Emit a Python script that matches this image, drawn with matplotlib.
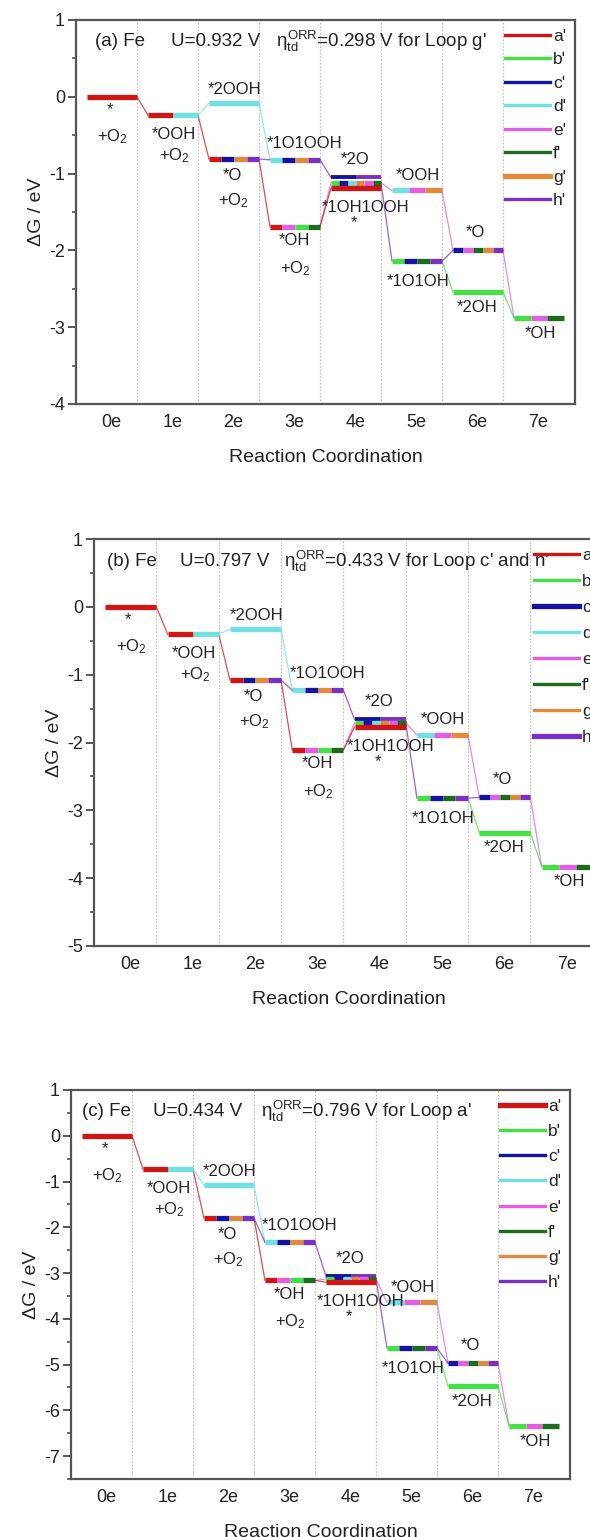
import numpy as np
import matplotlib
matplotlib.use('Agg')
import matplotlib.pyplot as plt
from matplotlib.lines import Line2D
from matplotlib.ticker import MultipleLocator

plt.rcParams['font.family'] = ['Liberation Sans', 'DejaVu Sans']
plt.rcParams['mathtext.fontset'] = 'custom'
plt.rcParams['mathtext.rm'] = 'Liberation Sans'
plt.rcParams['mathtext.it'] = 'Liberation Sans'
plt.rcParams['mathtext.bf'] = 'Liberation Sans:bold'
plt.rcParams['axes.unicode_minus'] = False

# reaction steps on the x axis
steps = ['0e', '1e', '2e', '3e', '4e', '5e', '6e', '7e']

# loops and their colours
loops = ['a', 'b', 'c', 'd', 'e', 'f', 'g', 'h']
loop_colors = {'a': '#d01515', 'b': '#45e045', 'c': '#1414a0', 'd': '#70e0e0',
               'e': '#e35ee3', 'f': '#1d6b1d', 'g': '#e08a3c', 'h': '#7a30c0'}

# intermediate states: step index and the loops seen on each bar (left to right)
states = ['s0', 'OOH1', 'O2', 'OOH2_2', 'OH3', 'O1OOH3', 'O2_4', 'OH1OOH4', 's4',
          'OOH5', 'O1OH5', 'O6', 'OH2_6', 'OH7']
state_step = [0, 1, 2, 2, 3, 3, 4, 4, 4, 5, 5, 6, 6, 7]
state_loops = ['a', 'ad', 'acgh', 'd', 'aebf', 'dcgh', 'ch', 'bcdgef', 'a',
               'deg', 'bcfh', 'cefgh', 'b', 'bef']

# free energies (eV) per panel, same order as states
dG_a = [0, -0.24, -0.81, -0.08, -1.69, -0.82, -1.05, -1.12, -1.19,
        -1.22, -2.14, -2.00, -2.54, -2.88]
dG_b = [0, -0.40, -1.08, -0.33, -2.11, -1.23, -1.66, -1.71, -1.77,
        -1.89, -2.82, -2.81, -3.33, -3.83]
dG_c = [0, -0.73, -1.80, -1.08, -3.16, -2.33, -3.07, -3.13, -3.20,
        -3.64, -4.64, -4.97, -5.47, -6.34]

# connecting lines (from state, to state, loop colour)
links = [('s0', 'OOH1', 'a'), ('OOH1', 'O2', 'a'), ('OOH1', 'OOH2_2', 'd'),
         ('OOH2_2', 'O1OOH3', 'd'), ('O2', 'OH3', 'a'), ('O2', 'O1OOH3', 'h'),
         ('O1OOH3', 'O2_4', 'h'), ('OH3', 'OH1OOH4', 'e'), ('OH3', 's4', 'a'),
         ('OH1OOH4', 'OOH5', 'e'), ('OH1OOH4', 'O1OH5', 'h'), ('OOH5', 'O6', 'e'),
         ('O1OH5', 'O6', 'h'), ('O1OH5', 'OH2_6', 'b'), ('O6', 'OH7', 'e'),
         ('OH2_6', 'OH7', 'b')]

# state labels: state, text, x shift (steps), y offset (points)
labels = [('s0', '*', 0.05, -9), ('s0', '+O$_2$', 0.1, -29),
          ('OOH1', '*OOH', 0.1, -14), ('OOH1', '+O$_2$', 0.12, -29),
          ('OOH2_2', '*2OOH', 0.1, 10),
          ('O2', '*O', 0.06, -12), ('O2', '+O$_2$', 0.08, -30),
          ('O1OOH3', '*1O1OOH', 0.25, 12),
          ('OH3', '*OH', 0.08, -10), ('OH3', '+O$_2$', 0.1, -30),
          ('O2_4', '*2O', 0.08, 13),
          ('s4', '*1OH1OOH', 0.25, -14), ('s4', '*', 0.05, -25),
          ('OOH5', '*OOH', 0.1, 11), ('O1OH5', '*1O1OH', 0.1, -15),
          ('O6', '*O', 0.05, 13), ('OH2_6', '*2OH', 0.07, -11),
          ('OH7', '*OH', 0.12, -11)]

panels = [
    dict(tag='a', dG=dG_a, U='0.932', eta='0.298', loop="g'", ylim=(-4, 1),
         bold='g', box=(76, 20, 575, 404), spacing=0.48, title_x=(0.038, 0.19, 0.40)),
    dict(tag='b', dG=dG_b, U='0.797', eta='0.433', loop="c' and h'", ylim=(-5, 1),
         bold='ch', box=(94, 539, 604, 946), spacing=0.63, title_x=(0.025, 0.169, 0.373)),
    dict(tag='c', dG=dG_c, U='0.434', eta='0.796', loop="a'", ylim=(-7.5, 1),
         bold='a', box=(71, 1090, 570, 1479), spacing=0.58, title_x=(0.023, 0.164, 0.38)),
]

W, H = 590, 1537
fig = plt.figure(figsize=(W / 100, H / 100), dpi=100)
ink = '#222222'
axis_col = '#555555'

for p in panels:
    x0, y0, x1, y1 = p['box']
    ax = fig.add_axes([x0 / W, 1 - y1 / H, (x1 - x0) / W, (y1 - y0) / H])
    ax.set_xlim(-0.5, 7.68)
    ax.set_ylim(*p['ylim'])
    E = dict(zip(states, p['dG']))
    X = dict(zip(states, state_step))

    for k in range(7):
        ax.axvline(k + 0.5, color='#c0c0c0', lw=0.8, ls=(0, (1.5, 1.5)), zorder=0)

    for s1, s2, lp in links:
        ax.plot([X[s1] + 0.5, X[s2] - 0.32], [E[s1], E[s2]], color=loop_colors[lp],
                lw=0.9, alpha=0.75, zorder=1)

    for s in states:
        segs = state_loops[states.index(s)]
        edges = np.linspace(X[s] - 0.32, X[s] + 0.5, len(segs) + 1)
        lw = 2.8 if s == 'O2_4' else 3.8
        for i, lp in enumerate(segs):
            ax.plot([edges[i], edges[i + 1]], [E[s], E[s]], color=loop_colors[lp],
                    lw=lw, solid_capstyle='butt', zorder=2)

    for s, txt, dx, dy in labels:
        ax.annotate(txt, (X[s] + dx, E[s]), xytext=(0, dy), textcoords='offset points',
                    ha='center', va='center', fontsize=12, color=ink)

    tx = p['title_x']
    ax.text(tx[0], 0.945, f"({p['tag']}) Fe", transform=ax.transAxes,
            fontsize=13.5, color=ink, va='center')
    ax.text(tx[1], 0.945, f"U={p['U']} V", transform=ax.transAxes,
            fontsize=13.5, color=ink, va='center')
    ax.text(tx[2], 0.945, r"$\eta_{\rm td}^{\rm ORR}$" + f"={p['eta']} V for Loop {p['loop']}",
            transform=ax.transAxes, fontsize=13.5, color=ink, va='center')

    handles = [Line2D([], [], color=loop_colors[lp], lw=3.8 if lp in p['bold'] else 2.4)
               for lp in loops]
    ax.legend(handles, [lp + "'" for lp in loops], loc='upper right', frameon=False,
              fontsize=12.5, handlelength=2.6, handletextpad=0.2,
              labelspacing=p['spacing'], borderaxespad=0.3, borderpad=0.2,
              labelcolor=ink)

    ax.set_xticks(np.arange(len(steps)) + 0.08)
    ax.set_xticklabels(steps)
    ax.yaxis.set_major_locator(MultipleLocator(1))
    ax.yaxis.set_minor_locator(MultipleLocator(0.5))
    ax.tick_params(axis='x', length=0, pad=7, labelsize=13, labelcolor=ink)
    ax.tick_params(axis='y', which='major', direction='out', length=6, width=1.4,
                   color=axis_col, labelsize=13, labelcolor=ink, pad=2)
    ax.tick_params(axis='y', which='minor', direction='out', length=3, width=1.2,
                   color=axis_col)
    for sp in ax.spines.values():
        sp.set_color(axis_col)
        sp.set_linewidth(1.6)
    ax.set_xlabel('Reaction Coordination', fontsize=14, color=ink, labelpad=13)
    ax.set_ylabel('ΔG / eV', fontsize=14, color=ink, labelpad=3)

fig.savefig('out.png', dpi=100)
